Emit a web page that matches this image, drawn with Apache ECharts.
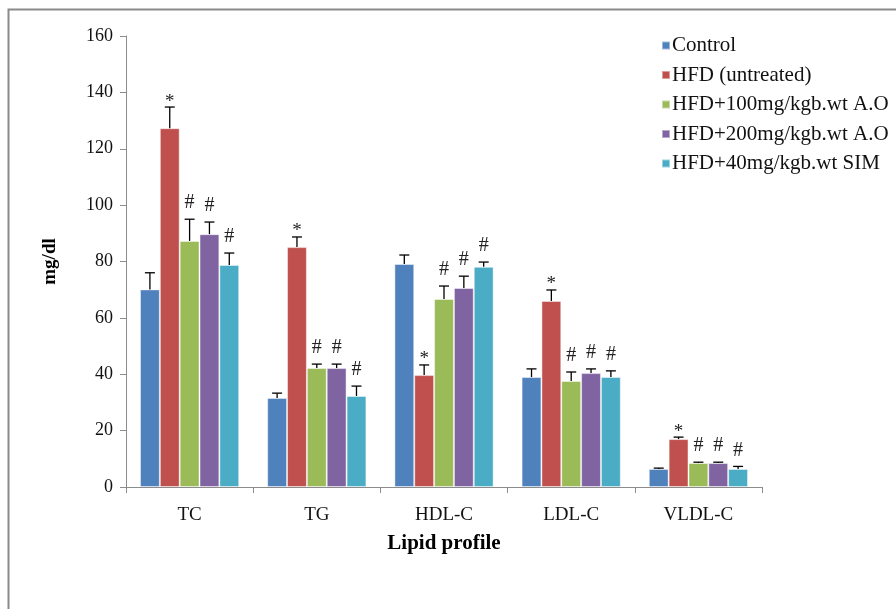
<!DOCTYPE html>
<html>
<head>
<meta charset="utf-8">
<script src="https://cdn.jsdelivr.net/npm/echarts@6/dist/echarts.min.js"></script>
<style>
  html, body { margin: 0; padding: 0; background: #fff; }
  #main { width: 896px; height: 609px; }
</style>
</head>
<body>
<div id="main"></div>
<script>
var categories = ['TC', 'TG', 'HDL-C', 'LDL-C', 'VLDL-C'];
var seriesNames = ['Control', 'HFD (untreated)', 'HFD+100mg/kgb.wt A.O', 'HFD+200mg/kgb.wt A.O', 'HFD+40mg/kgb.wt SIM'];
var colors = ['#4F81BD', '#C0504D', '#9BBB59', '#8064A2', '#4BACC6'];

// mean values per group
var control = [70.1, 31.6, 79.1, 39.0, 6.4];
var hfd     = [127.3, 85.1, 39.7, 66.0, 17.0];
var ao100   = [87.3, 42.2, 66.7, 37.6, 8.5];
var ao200   = [89.7, 42.2, 70.6, 40.4, 8.5];
var sim     = [78.8, 32.3, 78.1, 39.0, 6.4];

// top of error bars
var controlErr = [76.0, 33.3, 82.3, 41.9, 6.7];
var hfdErr     = [134.8, 88.7, 43.3, 69.9, 17.7];
var ao100Err   = [95.0, 43.6, 71.3, 40.8, 8.8];
var ao200Err   = [94.0, 43.6, 74.8, 41.9, 8.8];
var simErr     = [83.0, 35.8, 79.8, 41.2, 7.3];

// significance marks
var controlMark = ['', '', '', '', ''];
var hfdMark     = ['*', '*', '*', '*', '*'];
var ao100Mark   = ['#', '#', '#', '#', '#'];
var ao200Mark   = ['#', '#', '#', '#', '#'];
var simMark     = ['#', '#', '#', '#', '#'];

var yTicks = [0, 20, 40, 60, 80, 100, 120, 140, 160];

var means = [control, hfd, ao100, ao200, sim];
var errs = [controlErr, hfdErr, ao100Err, ao200Err, simErr];
var marks = [controlMark, hfdMark, ao100Mark, ao200Mark, simMark];

var font = 'Liberation Serif';
var gapRatio = 0.22;

var dom = document.getElementById('main');
var myChart = echarts.init(dom);

function errorRender(k) {
  return function (params, api) {
    var ci = api.value(0);
    var base = api.coord([ci, api.value(1)]);
    var top = api.coord([ci, api.value(2)]);
    var band = api.size([1, 0])[0];
    var barW = band * (1 - gapRatio) / 5;
    var x = base[0] + (k - 2) * barW;
    var mark = marks[k][ci];
    var children = [
      {type: 'line', shape: {x1: x, y1: base[1], x2: x, y2: top[1]}, style: {stroke: '#000', lineWidth: 1.3}},
      {type: 'line', shape: {x1: x - 5, y1: top[1], x2: x + 5, y2: top[1]}, style: {stroke: '#000', lineWidth: 1.3}}
    ];
    if (mark) {
      children.push({
        type: 'text',
        style: {
          text: mark,
          x: x,
          y: mark === '*' ? top[1] + 4 : top[1] - 6,
          align: 'center',
          verticalAlign: 'bottom',
          font: (mark === '*' ? '19px ' : '20px ') + '"' + font + '"',
          fill: '#222'
        }
      });
    }
    return {type: 'group', children: children};
  };
}

var series = [];
seriesNames.forEach(function (name, k) {
  series.push({
    name: name,
    type: 'bar',
    data: means[k],
    barGap: '0%',
    barCategoryGap: (gapRatio * 100) + '%',
    itemStyle: {color: colors[k], borderColor: 'rgba(255,255,255,0.45)', borderWidth: 1},
    emphasis: {disabled: true}
  });
});
seriesNames.forEach(function (name, k) {
  var d = [];
  for (var i = 0; i < categories.length; i++) {
    d.push([i, means[k][i], errs[k][i]]);
  }
  series.push({
    type: 'custom',
    renderItem: errorRender(k),
    data: d,
    encode: {x: 0, y: [1, 2]},
    z: 5,
    silent: true
  });
});

var option = {
  animation: false,
  color: colors,
  graphic: [{
    type: 'rect',
    left: 6, top: 7,
    shape: {width: 2000, height: 2000},
    style: {fill: 'none', stroke: '#8a8a8a', lineWidth: 2},
    silent: true
  }],
  legend: {
    orient: 'vertical',
    left: 656,
    top: 30,
    itemWidth: 8,
    itemHeight: 8,
    itemGap: 8.5,
    icon: 'rect',
    data: seriesNames,
    textStyle: {fontFamily: font, fontSize: 21, color: '#111', lineHeight: 18, padding: [0, 0, 0, -3]}
  },
  grid: {left: 126, right: 134, top: 36, bottom: 122},
  xAxis: {
    type: 'category',
    data: categories,
    name: 'Lipid profile',
    nameLocation: 'middle',
    nameGap: 46,
    nameTextStyle: {fontFamily: font, fontSize: 21, fontWeight: 'bold', color: '#000'},
    axisLine: {lineStyle: {color: '#8c8c8c', width: 1}},
    axisTick: {show: true, length: 6, lineStyle: {color: '#8c8c8c'}},
    axisLabel: {fontFamily: font, fontSize: 19, color: '#111', margin: 19}
  },
  yAxis: {
    type: 'value',
    min: yTicks[0],
    max: yTicks[yTicks.length - 1],
    interval: 20,
    name: 'mg/dl',
    nameLocation: 'middle',
    nameGap: 66,
    nameTextStyle: {fontFamily: font, fontSize: 19, fontWeight: 'bold', color: '#000'},
    axisLine: {show: true, lineStyle: {color: '#8c8c8c', width: 1}},
    axisTick: {show: true, length: 6, lineStyle: {color: '#8c8c8c'}},
    splitLine: {show: false},
    axisLabel: {fontFamily: font, fontSize: 18, color: '#111', margin: 13}
  },
  series: series
};

myChart.setOption(option);
</script>
</body>
</html>
